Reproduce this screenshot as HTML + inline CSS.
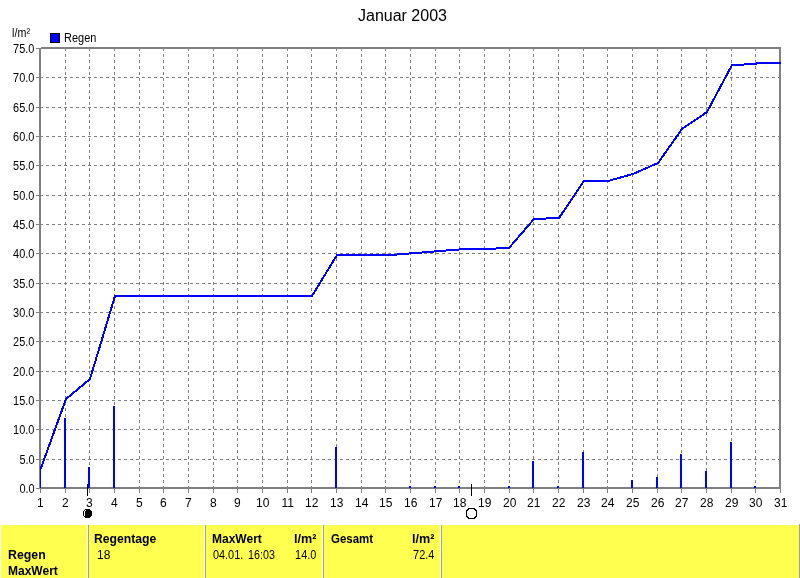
<!DOCTYPE html><html><head><meta charset="utf-8"><style>html,body{margin:0;padding:0;background:#fff;width:800px;height:578px;overflow:hidden}svg{display:block;will-change:transform}text{font-family:"Liberation Sans",sans-serif;fill:#000}</style></head><body>
<svg width="800" height="578" viewBox="0 0 800 578">
<text x="358.00" y="21" font-size="16" textLength="88.97" lengthAdjust="spacingAndGlyphs" xml:space="preserve">Januar 2003</text>
<text x="12.11" y="37" font-size="12" textLength="17.89" lengthAdjust="spacingAndGlyphs" xml:space="preserve">l/m²</text>
<rect x="50.5" y="33.5" width="9" height="9" fill="#0000ff" stroke="#000" stroke-width="1"/>
<text x="64.09" y="42" font-size="12" textLength="32.25" lengthAdjust="spacingAndGlyphs" xml:space="preserve">Regen</text>
<g stroke="#808080" stroke-width="1" stroke-dasharray="3 3" shape-rendering="crispEdges"><line x1="40" y1="459.5" x2="779" y2="459.5"/><line x1="40" y1="429.5" x2="779" y2="429.5"/><line x1="40" y1="400.5" x2="779" y2="400.5"/><line x1="40" y1="371.5" x2="779" y2="371.5"/><line x1="40" y1="341.5" x2="779" y2="341.5"/><line x1="40" y1="312.5" x2="779" y2="312.5"/><line x1="40" y1="283.5" x2="779" y2="283.5"/><line x1="40" y1="253.5" x2="779" y2="253.5"/><line x1="40" y1="224.5" x2="779" y2="224.5"/><line x1="40" y1="195.5" x2="779" y2="195.5"/><line x1="40" y1="165.5" x2="779" y2="165.5"/><line x1="40" y1="136.5" x2="779" y2="136.5"/><line x1="40" y1="107.5" x2="779" y2="107.5"/><line x1="40" y1="77.5" x2="779" y2="77.5"/><line x1="65.5" y1="48" x2="65.5" y2="487"/><line x1="89.5" y1="48" x2="89.5" y2="487"/><line x1="114.5" y1="48" x2="114.5" y2="487"/><line x1="139.5" y1="48" x2="139.5" y2="487"/><line x1="163.5" y1="48" x2="163.5" y2="487"/><line x1="188.5" y1="48" x2="188.5" y2="487"/><line x1="213.5" y1="48" x2="213.5" y2="487"/><line x1="237.5" y1="48" x2="237.5" y2="487"/><line x1="262.5" y1="48" x2="262.5" y2="487"/><line x1="287.5" y1="48" x2="287.5" y2="487"/><line x1="311.5" y1="48" x2="311.5" y2="487"/><line x1="336.5" y1="48" x2="336.5" y2="487"/><line x1="361.5" y1="48" x2="361.5" y2="487"/><line x1="385.5" y1="48" x2="385.5" y2="487"/><line x1="410.5" y1="48" x2="410.5" y2="487"/><line x1="435.5" y1="48" x2="435.5" y2="487"/><line x1="459.5" y1="48" x2="459.5" y2="487"/><line x1="484.5" y1="48" x2="484.5" y2="487"/><line x1="509.5" y1="48" x2="509.5" y2="487"/><line x1="533.5" y1="48" x2="533.5" y2="487"/><line x1="558.5" y1="48" x2="558.5" y2="487"/><line x1="583.5" y1="48" x2="583.5" y2="487"/><line x1="607.5" y1="48" x2="607.5" y2="487"/><line x1="632.5" y1="48" x2="632.5" y2="487"/><line x1="657.5" y1="48" x2="657.5" y2="487"/><line x1="681.5" y1="48" x2="681.5" y2="487"/><line x1="706.5" y1="48" x2="706.5" y2="487"/><line x1="731.5" y1="48" x2="731.5" y2="487"/><line x1="755.5" y1="48" x2="755.5" y2="487"/></g>
<g fill="#808080"><rect x="41" y="47" width="740" height="2"/><rect x="39" y="487" width="742" height="2"/><rect x="39" y="48" width="2" height="440"/><rect x="779" y="47" width="2" height="442"/><rect x="36" y="488" width="3" height="1"/><rect x="36" y="459" width="3" height="1"/><rect x="36" y="429" width="3" height="1"/><rect x="36" y="400" width="3" height="1"/><rect x="36" y="371" width="3" height="1"/><rect x="36" y="341" width="3" height="1"/><rect x="36" y="312" width="3" height="1"/><rect x="36" y="283" width="3" height="1"/><rect x="36" y="253" width="3" height="1"/><rect x="36" y="224" width="3" height="1"/><rect x="36" y="195" width="3" height="1"/><rect x="36" y="165" width="3" height="1"/><rect x="36" y="136" width="3" height="1"/><rect x="36" y="107" width="3" height="1"/><rect x="36" y="77" width="3" height="1"/><rect x="36" y="48" width="3" height="1"/><rect x="40" y="489" width="1" height="4"/><rect x="65" y="489" width="1" height="4"/><rect x="89" y="489" width="1" height="4"/><rect x="114" y="489" width="1" height="4"/><rect x="139" y="489" width="1" height="4"/><rect x="163" y="489" width="1" height="4"/><rect x="188" y="489" width="1" height="4"/><rect x="213" y="489" width="1" height="4"/><rect x="237" y="489" width="1" height="4"/><rect x="262" y="489" width="1" height="4"/><rect x="287" y="489" width="1" height="4"/><rect x="311" y="489" width="1" height="4"/><rect x="336" y="489" width="1" height="4"/><rect x="361" y="489" width="1" height="4"/><rect x="385" y="489" width="1" height="4"/><rect x="410" y="489" width="1" height="4"/><rect x="435" y="489" width="1" height="4"/><rect x="459" y="489" width="1" height="4"/><rect x="484" y="489" width="1" height="4"/><rect x="509" y="489" width="1" height="4"/><rect x="533" y="489" width="1" height="4"/><rect x="558" y="489" width="1" height="4"/><rect x="583" y="489" width="1" height="4"/><rect x="607" y="489" width="1" height="4"/><rect x="632" y="489" width="1" height="4"/><rect x="657" y="489" width="1" height="4"/><rect x="681" y="489" width="1" height="4"/><rect x="706" y="489" width="1" height="4"/><rect x="731" y="489" width="1" height="4"/><rect x="755" y="489" width="1" height="4"/><rect x="780" y="489" width="1" height="4"/></g>
<g fill="#0000ff"><rect x="40" y="468" width="1" height="20"/><rect x="64" y="418" width="2" height="70"/><rect x="88" y="467" width="2" height="21"/><rect x="113" y="406" width="2" height="82"/><rect x="335" y="447" width="2" height="41"/><rect x="409" y="486" width="2" height="2"/><rect x="434" y="486" width="2" height="2"/><rect x="458" y="486" width="2" height="2"/><rect x="508" y="486" width="2" height="2"/><rect x="532" y="461" width="2" height="27"/><rect x="557" y="486" width="2" height="2"/><rect x="582" y="452" width="2" height="36"/><rect x="631" y="480" width="2" height="8"/><rect x="656" y="477" width="2" height="11"/><rect x="680" y="454" width="2" height="34"/><rect x="705" y="471" width="2" height="17"/><rect x="730" y="442" width="2" height="46"/><rect x="754" y="486" width="2" height="2"/></g>
<defs><clipPath id="pc"><rect x="40" y="40" width="741" height="448"/></clipPath></defs><g clip-path="url(#pc)" stroke="#0000ff" stroke-width="2" stroke-linecap="square" shape-rendering="crispEdges"><line x1="41" y1="468" x2="66" y2="399"/><line x1="66" y1="399" x2="90" y2="379"/><line x1="90" y1="379" x2="115" y2="296"/><line x1="115" y1="296" x2="140" y2="296"/><line x1="140" y1="296" x2="164" y2="296"/><line x1="164" y1="296" x2="189" y2="296"/><line x1="189" y1="296" x2="214" y2="296"/><line x1="214" y1="296" x2="238" y2="296"/><line x1="238" y1="296" x2="263" y2="296"/><line x1="263" y1="296" x2="288" y2="296"/><line x1="288" y1="296" x2="312" y2="296"/><line x1="312" y1="296" x2="337" y2="255"/><line x1="337" y1="255" x2="391" y2="255"/><line x1="391" y1="255" x2="465" y2="249"/><line x1="465" y1="249" x2="484" y2="249"/><line x1="484" y1="249" x2="509" y2="248"/><line x1="509" y1="248" x2="534" y2="219"/><line x1="534" y1="219" x2="559" y2="218"/><line x1="559" y1="218" x2="584" y2="181"/><line x1="584" y1="181" x2="608" y2="181"/><line x1="608" y1="181" x2="633" y2="174"/><line x1="633" y1="174" x2="658" y2="163"/><line x1="658" y1="163" x2="682" y2="129"/><line x1="682" y1="129" x2="707" y2="112"/><line x1="707" y1="112" x2="732" y2="65"/><line x1="732" y1="65" x2="756" y2="64"/><line x1="756" y1="64" x2="757" y2="63"/><line x1="757" y1="63" x2="781" y2="63"/></g>
<g><text x="19.45" y="493" font-size="12" textLength="15.17" lengthAdjust="spacingAndGlyphs" xml:space="preserve">0.0</text><text x="19.45" y="464" font-size="12" textLength="15.17" lengthAdjust="spacingAndGlyphs" xml:space="preserve">5.0</text><text x="13.09" y="434" font-size="12" textLength="21.24" lengthAdjust="spacingAndGlyphs" xml:space="preserve">10.0</text><text x="13.09" y="405" font-size="12" textLength="21.24" lengthAdjust="spacingAndGlyphs" xml:space="preserve">15.0</text><text x="13.09" y="376" font-size="12" textLength="21.24" lengthAdjust="spacingAndGlyphs" xml:space="preserve">20.0</text><text x="13.09" y="346" font-size="12" textLength="21.24" lengthAdjust="spacingAndGlyphs" xml:space="preserve">25.0</text><text x="13.09" y="317" font-size="12" textLength="21.24" lengthAdjust="spacingAndGlyphs" xml:space="preserve">30.0</text><text x="13.09" y="288" font-size="12" textLength="21.24" lengthAdjust="spacingAndGlyphs" xml:space="preserve">35.0</text><text x="13.09" y="258" font-size="12" textLength="21.24" lengthAdjust="spacingAndGlyphs" xml:space="preserve">40.0</text><text x="13.09" y="229" font-size="12" textLength="21.24" lengthAdjust="spacingAndGlyphs" xml:space="preserve">45.0</text><text x="13.09" y="200" font-size="12" textLength="21.24" lengthAdjust="spacingAndGlyphs" xml:space="preserve">50.0</text><text x="13.09" y="170" font-size="12" textLength="21.24" lengthAdjust="spacingAndGlyphs" xml:space="preserve">55.0</text><text x="13.09" y="141" font-size="12" textLength="21.24" lengthAdjust="spacingAndGlyphs" xml:space="preserve">60.0</text><text x="13.09" y="112" font-size="12" textLength="21.24" lengthAdjust="spacingAndGlyphs" xml:space="preserve">65.0</text><text x="13.09" y="82" font-size="12" textLength="21.24" lengthAdjust="spacingAndGlyphs" xml:space="preserve">70.0</text><text x="13.09" y="53" font-size="12" textLength="21.24" lengthAdjust="spacingAndGlyphs" xml:space="preserve">75.0</text></g>
<g><text x="37.00" y="507" font-size="12" textLength="6.69" lengthAdjust="spacingAndGlyphs" xml:space="preserve">1</text><text x="62.00" y="507" font-size="12" textLength="6.69" lengthAdjust="spacingAndGlyphs" xml:space="preserve">2</text><text x="86.00" y="507" font-size="12" textLength="6.69" lengthAdjust="spacingAndGlyphs" xml:space="preserve">3</text><text x="111.00" y="507" font-size="12" textLength="6.69" lengthAdjust="spacingAndGlyphs" xml:space="preserve">4</text><text x="136.00" y="507" font-size="12" textLength="6.69" lengthAdjust="spacingAndGlyphs" xml:space="preserve">5</text><text x="160.00" y="507" font-size="12" textLength="6.69" lengthAdjust="spacingAndGlyphs" xml:space="preserve">6</text><text x="185.00" y="507" font-size="12" textLength="6.69" lengthAdjust="spacingAndGlyphs" xml:space="preserve">7</text><text x="210.00" y="507" font-size="12" textLength="6.69" lengthAdjust="spacingAndGlyphs" xml:space="preserve">8</text><text x="234.00" y="507" font-size="12" textLength="6.69" lengthAdjust="spacingAndGlyphs" xml:space="preserve">9</text><text x="256.00" y="507" font-size="12" textLength="13.36" lengthAdjust="spacingAndGlyphs" xml:space="preserve">10</text><text x="281.50" y="507" font-size="12" textLength="12.47" lengthAdjust="spacingAndGlyphs" xml:space="preserve">11</text><text x="305.00" y="507" font-size="12" textLength="13.36" lengthAdjust="spacingAndGlyphs" xml:space="preserve">12</text><text x="330.00" y="507" font-size="12" textLength="13.36" lengthAdjust="spacingAndGlyphs" xml:space="preserve">13</text><text x="355.00" y="507" font-size="12" textLength="13.36" lengthAdjust="spacingAndGlyphs" xml:space="preserve">14</text><text x="379.00" y="507" font-size="12" textLength="13.36" lengthAdjust="spacingAndGlyphs" xml:space="preserve">15</text><text x="404.00" y="507" font-size="12" textLength="13.36" lengthAdjust="spacingAndGlyphs" xml:space="preserve">16</text><text x="429.00" y="507" font-size="12" textLength="13.36" lengthAdjust="spacingAndGlyphs" xml:space="preserve">17</text><text x="453.00" y="507" font-size="12" textLength="13.36" lengthAdjust="spacingAndGlyphs" xml:space="preserve">18</text><text x="478.00" y="507" font-size="12" textLength="13.36" lengthAdjust="spacingAndGlyphs" xml:space="preserve">19</text><text x="503.00" y="507" font-size="12" textLength="13.36" lengthAdjust="spacingAndGlyphs" xml:space="preserve">20</text><text x="527.00" y="507" font-size="12" textLength="13.36" lengthAdjust="spacingAndGlyphs" xml:space="preserve">21</text><text x="552.00" y="507" font-size="12" textLength="13.36" lengthAdjust="spacingAndGlyphs" xml:space="preserve">22</text><text x="577.00" y="507" font-size="12" textLength="13.36" lengthAdjust="spacingAndGlyphs" xml:space="preserve">23</text><text x="601.00" y="507" font-size="12" textLength="13.36" lengthAdjust="spacingAndGlyphs" xml:space="preserve">24</text><text x="626.00" y="507" font-size="12" textLength="13.36" lengthAdjust="spacingAndGlyphs" xml:space="preserve">25</text><text x="651.00" y="507" font-size="12" textLength="13.36" lengthAdjust="spacingAndGlyphs" xml:space="preserve">26</text><text x="675.00" y="507" font-size="12" textLength="13.36" lengthAdjust="spacingAndGlyphs" xml:space="preserve">27</text><text x="700.00" y="507" font-size="12" textLength="13.36" lengthAdjust="spacingAndGlyphs" xml:space="preserve">28</text><text x="725.00" y="507" font-size="12" textLength="13.36" lengthAdjust="spacingAndGlyphs" xml:space="preserve">29</text><text x="749.00" y="507" font-size="12" textLength="13.36" lengthAdjust="spacingAndGlyphs" xml:space="preserve">30</text><text x="774.00" y="507" font-size="12" textLength="13.36" lengthAdjust="spacingAndGlyphs" xml:space="preserve">31</text></g>
<rect x="87" y="484" width="1" height="12" fill="#000"/>
<rect x="471" y="484" width="1" height="12" fill="#000"/>
<g fill="#000" shape-rendering="crispEdges"><rect x="85" y="509" width="1" height="1"/><rect x="86" y="509" width="1" height="1"/><rect x="87" y="509" width="1" height="1"/><rect x="88" y="509" width="1" height="1"/><rect x="89" y="509" width="1" height="1"/><rect x="84" y="510" width="1" height="1"/><rect x="86" y="510" width="1" height="1"/><rect x="87" y="510" width="1" height="1"/><rect x="88" y="510" width="1" height="1"/><rect x="89" y="510" width="1" height="1"/><rect x="90" y="510" width="1" height="1"/><rect x="83" y="511" width="1" height="1"/><rect x="85" y="511" width="1" height="1"/><rect x="86" y="511" width="1" height="1"/><rect x="87" y="511" width="1" height="1"/><rect x="88" y="511" width="1" height="1"/><rect x="89" y="511" width="1" height="1"/><rect x="90" y="511" width="1" height="1"/><rect x="91" y="511" width="1" height="1"/><rect x="83" y="512" width="1" height="1"/><rect x="85" y="512" width="1" height="1"/><rect x="86" y="512" width="1" height="1"/><rect x="87" y="512" width="1" height="1"/><rect x="88" y="512" width="1" height="1"/><rect x="89" y="512" width="1" height="1"/><rect x="90" y="512" width="1" height="1"/><rect x="91" y="512" width="1" height="1"/><rect x="83" y="513" width="1" height="1"/><rect x="85" y="513" width="1" height="1"/><rect x="86" y="513" width="1" height="1"/><rect x="87" y="513" width="1" height="1"/><rect x="88" y="513" width="1" height="1"/><rect x="89" y="513" width="1" height="1"/><rect x="90" y="513" width="1" height="1"/><rect x="91" y="513" width="1" height="1"/><rect x="83" y="514" width="1" height="1"/><rect x="85" y="514" width="1" height="1"/><rect x="86" y="514" width="1" height="1"/><rect x="87" y="514" width="1" height="1"/><rect x="88" y="514" width="1" height="1"/><rect x="89" y="514" width="1" height="1"/><rect x="90" y="514" width="1" height="1"/><rect x="91" y="514" width="1" height="1"/><rect x="83" y="515" width="1" height="1"/><rect x="85" y="515" width="1" height="1"/><rect x="86" y="515" width="1" height="1"/><rect x="87" y="515" width="1" height="1"/><rect x="88" y="515" width="1" height="1"/><rect x="89" y="515" width="1" height="1"/><rect x="90" y="515" width="1" height="1"/><rect x="91" y="515" width="1" height="1"/><rect x="84" y="516" width="1" height="1"/><rect x="85" y="516" width="1" height="1"/><rect x="86" y="516" width="1" height="1"/><rect x="87" y="516" width="1" height="1"/><rect x="88" y="516" width="1" height="1"/><rect x="89" y="516" width="1" height="1"/><rect x="90" y="516" width="1" height="1"/><rect x="85" y="517" width="1" height="1"/><rect x="86" y="517" width="1" height="1"/><rect x="87" y="517" width="1" height="1"/><rect x="88" y="517" width="1" height="1"/><rect x="89" y="517" width="1" height="1"/></g>
<g fill="#000" shape-rendering="crispEdges"><rect x="468" y="508" width="1" height="1"/><rect x="469" y="508" width="1" height="1"/><rect x="470" y="508" width="1" height="1"/><rect x="471" y="508" width="1" height="1"/><rect x="472" y="508" width="1" height="1"/><rect x="473" y="508" width="1" height="1"/><rect x="474" y="508" width="1" height="1"/><rect x="467" y="509" width="1" height="1"/><rect x="468" y="509" width="1" height="1"/><rect x="474" y="509" width="1" height="1"/><rect x="475" y="509" width="1" height="1"/><rect x="466" y="510" width="1" height="1"/><rect x="467" y="510" width="1" height="1"/><rect x="475" y="510" width="1" height="1"/><rect x="476" y="510" width="1" height="1"/><rect x="466" y="511" width="1" height="1"/><rect x="476" y="511" width="1" height="1"/><rect x="466" y="512" width="1" height="1"/><rect x="476" y="512" width="1" height="1"/><rect x="466" y="513" width="1" height="1"/><rect x="476" y="513" width="1" height="1"/><rect x="466" y="514" width="1" height="1"/><rect x="476" y="514" width="1" height="1"/><rect x="466" y="515" width="1" height="1"/><rect x="476" y="515" width="1" height="1"/><rect x="466" y="516" width="1" height="1"/><rect x="467" y="516" width="1" height="1"/><rect x="475" y="516" width="1" height="1"/><rect x="476" y="516" width="1" height="1"/><rect x="467" y="517" width="1" height="1"/><rect x="468" y="517" width="1" height="1"/><rect x="474" y="517" width="1" height="1"/><rect x="475" y="517" width="1" height="1"/><rect x="468" y="518" width="1" height="1"/><rect x="469" y="518" width="1" height="1"/><rect x="470" y="518" width="1" height="1"/><rect x="471" y="518" width="1" height="1"/><rect x="472" y="518" width="1" height="1"/><rect x="473" y="518" width="1" height="1"/><rect x="474" y="518" width="1" height="1"/></g>
<rect x="1" y="525" width="798" height="53" fill="#ffff50"/>
<rect x="799" y="524" width="1" height="54" fill="#a0a0a0"/>
<rect x="87" y="525" width="1" height="53" fill="#ffffff"/>
<rect x="88" y="525" width="1" height="53" fill="#a0a0a0"/>
<rect x="204" y="525" width="1" height="53" fill="#ffffff"/>
<rect x="205" y="525" width="1" height="53" fill="#a0a0a0"/>
<rect x="322" y="525" width="1" height="53" fill="#ffffff"/>
<rect x="323" y="525" width="1" height="53" fill="#a0a0a0"/>
<rect x="440" y="525" width="1" height="53" fill="#ffffff"/>
<rect x="441" y="525" width="1" height="53" fill="#a0a0a0"/>
<g><text x="7.97" y="559" font-size="12" font-weight="bold" textLength="37.74" lengthAdjust="spacingAndGlyphs" xml:space="preserve">Regen</text><text x="8.00" y="575" font-size="12" font-weight="bold" textLength="49.80" lengthAdjust="spacingAndGlyphs" xml:space="preserve">MaxWert</text><text x="93.98" y="543" font-size="12" font-weight="bold" textLength="62.38" lengthAdjust="spacingAndGlyphs" xml:space="preserve">Regentage</text><text x="97.00" y="559" font-size="12" textLength="13.36" lengthAdjust="spacingAndGlyphs" xml:space="preserve">18</text><text x="212.00" y="543" font-size="12" font-weight="bold" textLength="49.80" lengthAdjust="spacingAndGlyphs" xml:space="preserve">MaxWert</text><text x="293.95" y="543" font-size="12" font-weight="bold" textLength="22.41" lengthAdjust="spacingAndGlyphs" xml:space="preserve">l/m²</text><text x="213.00" y="559" font-size="12" textLength="30.25" lengthAdjust="spacingAndGlyphs" xml:space="preserve">04.01.</text><text x="248.10" y="559" font-size="12" textLength="26.92" lengthAdjust="spacingAndGlyphs" xml:space="preserve">16:03</text><text x="295.09" y="559" font-size="12" textLength="21.24" lengthAdjust="spacingAndGlyphs" xml:space="preserve">14.0</text><text x="331.00" y="543" font-size="12" font-weight="bold" textLength="42.03" lengthAdjust="spacingAndGlyphs" xml:space="preserve">Gesamt</text><text x="411.95" y="543" font-size="12" font-weight="bold" textLength="22.41" lengthAdjust="spacingAndGlyphs" xml:space="preserve">l/m²</text><text x="413.09" y="559" font-size="12" textLength="21.24" lengthAdjust="spacingAndGlyphs" xml:space="preserve">72.4</text></g>
</svg></body></html>
